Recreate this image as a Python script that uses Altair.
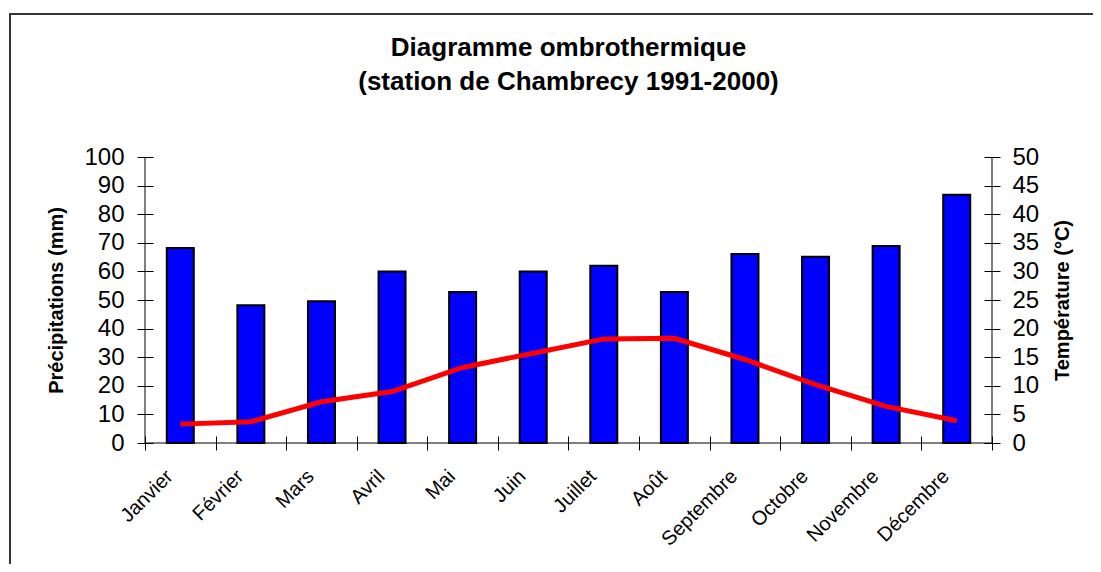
import altair as alt
import pandas as pd

months = ["Janvier", "Février", "Mars", "Avril", "Mai", "Juin", "Juillet",
          "Août", "Septembre", "Octobre", "Novembre", "Décembre"]
precip = [68.2, 48.2, 49.6, 60.0, 52.8, 60.0, 62.0, 52.8, 66.1, 65.1, 68.9, 86.8]
temp = [3.3, 3.7, 7.2, 9.0, 13.2, 15.7, 18.2, 18.3, 14.6, 10.2, 6.4, 3.9]
precip_ticks = list(range(0, 101, 10))
temp_ticks = list(range(0, 51, 5))

df = pd.DataFrame({"mois": months, "precip": precip, "temp": temp})

W, H = 847, 286
FONT = "Liberation Sans"

x_enc = alt.X(
    "mois:N", sort=months,
    scale=alt.Scale(paddingInner=0, paddingOuter=0),
    axis=alt.Axis(title=None, labelAngle=-45, labelAlign="right", labelBaseline="middle",
                  labelFontSize=20, labelFont=FONT, labelColor="black",
                  tickBand="extent", tickSize=14, offset=-7, domain=False,
                  tickColor="black", labelPadding=23, labelOffset=-11, grid=False),
)

bars = alt.Chart(df).mark_bar(color="#0000FF", stroke="black", strokeWidth=2, size=27).encode(
    x=x_enc,
    y=alt.Y("precip:Q", scale=alt.Scale(domain=[0, 100]),
            axis=alt.Axis(title="Précipitations (mm)", values=precip_ticks, orient="left",
                          domain=False, offset=-8, tickSize=16, tickColor="black",
                          labelFontSize=24, labelFont=FONT, labelColor="black", labelPadding=13,
                          titleFontSize=20, titleFont=FONT, titleFontWeight="bold",
                          titleColor="black", titlePadding=17, grid=False)),
)

line = alt.Chart(df).mark_line(color="#FF0000", strokeWidth=5).encode(
    x=x_enc,
    y=alt.Y("temp:Q", scale=alt.Scale(domain=[0, 50]),
            axis=alt.Axis(title="Température (°C)", values=temp_ticks, orient="right",
                          domain=False, offset=-8, tickSize=16, tickColor="black",
                          labelFontSize=24, labelFont=FONT, labelColor="black", labelPadding=12,
                          titleFontSize=20, titleFont=FONT, titleFontWeight="bold",
                          titleColor="black", titlePadding=34, titleAngle=270, grid=False)),
)

one = alt.Data(values=[{"a": 1}])
left_rule = alt.Chart(one).mark_rule(color="black", strokeWidth=1).encode(
    x=alt.value(0), y=alt.value(0), y2=alt.value(H))
right_rule = alt.Chart(one).mark_rule(color="black", strokeWidth=1).encode(
    x=alt.value(W), y=alt.value(0), y2=alt.value(H))
bottom_rule = alt.Chart(one).mark_rule(color="black", strokeWidth=1).encode(
    y=alt.value(H), x=alt.value(0), x2=alt.value(W))
frame = alt.Chart(one).mark_rect(filled=False, stroke="#333333", strokeWidth=2).encode(
    x=alt.value(-135), x2=alt.value(2000), y=alt.value(-143), y2=alt.value(1000))

chart = alt.layer(frame, bars, line, left_rule, right_rule, bottom_rule).resolve_scale(
    y="independent"
).properties(
    width=W, height=H,
    title=alt.TitleParams(
        text=["Diagramme ombrothermique", "(station de Chambrecy 1991-2000)"],
        fontSize=26, fontWeight="bold", font=FONT, color="black",
        anchor="middle", frame="group", offset=62, dy=144, lineHeight=34),
    padding={"left": 137, "top": 149, "right": 101, "bottom": 121},
    autosize=alt.AutoSizeParams(type="none"),
    background="white",
).configure_view(stroke=None)

chart.save("out.html", embed_options={"renderer": "svg", "actions": False})
